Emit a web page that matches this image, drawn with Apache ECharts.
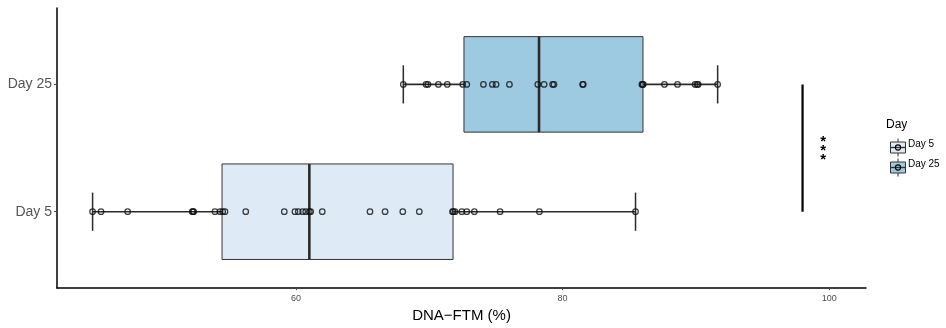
<!DOCTYPE html>
<html>
<head>
<meta charset="utf-8">
<script src="https://cdn.jsdelivr.net/npm/echarts@6/dist/echarts.min.js"></script>
<style>
  html, body { margin: 0; padding: 0; background: #fff; }
  #chart { width: 946px; height: 328px; }
</style>
</head>
<body>
<div id="chart"></div>
<script>
// Group labels (y position 1 = Day 5, 2 = Day 25)
const days = ['Day 5', 'Day 25'];

// Individual DNA-FTM measurements (%)
const day5Values = [44.74, 45.37, 47.37, 52.22, 52.27, 52.32, 53.92, 54.30, 54.50, 54.67,
  56.23, 59.12, 59.92, 60.17, 60.50, 60.73, 61.00, 61.10, 61.97, 65.55, 66.68, 68.01,
  69.25, 71.74, 71.80, 71.93, 72.44, 72.81, 73.38, 75.31, 78.26, 85.47];
const day25Values = [68.05, 69.76, 69.90, 70.68, 71.35, 72.51, 72.81, 74.06, 74.73, 75.01,
  76.01, 78.14, 78.61, 79.25, 79.35, 81.50, 81.55, 85.95, 86.00, 86.05, 87.64, 88.62,
  89.94, 90.09, 90.17, 91.63];

// Box summaries: [lower whisker, Q1, median, Q3, upper whisker]
const day5Box = [44.74, 54.45, 61.00, 71.78, 85.47];
const day25Box = [68.05, 72.60, 78.23, 86.03, 91.63];

const boxFills = ['#deebf7', '#9ecae1'];
const xTicks = [60, 80, 100];

// Significance bracket between the two groups
const sigX = 98;
const sigLabel = '***';
const sigLabelX = 99.55;

const FONT = '"Liberation Sans", Arial, Helvetica, sans-serif';
const chart = echarts.init(document.getElementById('chart'));

function boxItem(pos, stats) { return [pos].concat(stats); }
function pointItems(pos, vals) { return vals.map(v => [v, pos]); }

const boxSeries = [day5Box, day25Box].map((stats, i) => ({
  type: 'custom',
  name: days[i],
  z: 2,
  data: [boxItem(i + 1, stats)],
  encode: { x: [1, 2, 3, 4, 5], y: 0 },
  renderItem: function (params, api) {
    const y = api.value(0);
    const lo = api.coord([api.value(1), y]);
    const q1 = api.coord([api.value(2), y]);
    const md = api.coord([api.value(3), y]);
    const q3 = api.coord([api.value(4), y]);
    const hi = api.coord([api.value(5), y]);
    const boxH = api.size([0, 0.75])[1];
    const capH = api.size([0, 0.3])[1];
    const stroke = '#2b2b2b';
    return {
      type: 'group',
      children: [
        { type: 'line', shape: { x1: lo[0], y1: lo[1], x2: hi[0], y2: hi[1] },
          style: { stroke: stroke, lineWidth: 1.6 } },
        { type: 'line', shape: { x1: lo[0], y1: lo[1] - capH / 2, x2: lo[0], y2: lo[1] + capH / 2 },
          style: { stroke: stroke, lineWidth: 1.5 } },
        { type: 'line', shape: { x1: hi[0], y1: hi[1] - capH / 2, x2: hi[0], y2: hi[1] + capH / 2 },
          style: { stroke: stroke, lineWidth: 1.5 } },
        { type: 'rect', shape: { x: q1[0], y: q1[1] - boxH / 2, width: q3[0] - q1[0], height: boxH },
          style: { fill: boxFills[i], stroke: '#333', lineWidth: 1 } },
        { type: 'line', shape: { x1: md[0], y1: md[1] - boxH / 2, x2: md[0], y2: md[1] + boxH / 2 },
          style: { stroke: stroke, lineWidth: 2.6 } }
      ]
    };
  }
}));

const pointSeries = [day5Values, day25Values].map((vals, i) => ({
  type: 'scatter',
  name: days[i] + ' points',
  z: 4,
  symbol: 'circle',
  symbolSize: 5.5,
  itemStyle: { color: 'rgba(0,0,0,0)', borderColor: '#111', borderWidth: 1.3 },
  emphasis: { disabled: true },
  data: pointItems(i + 1, vals)
}));

const sigSeries = {
  type: 'line',
  z: 3,
  symbol: 'none',
  lineStyle: { color: '#000', width: 2.2 },
  data: [[sigX, 1], [sigX, 2]]
};

const starSeries = {
  type: 'custom',
  z: 3,
  data: [[sigLabelX, 1.5]],
  renderItem: function (params, api) {
    const p = api.coord([api.value(0), api.value(1)]);
    return {
      type: 'text',
      x: p[0],
      y: p[1] + 3,
      style: {
        text: sigLabel.split('').join('\n'),
        font: 'bold 15px ' + FONT,
        lineHeight: 8.7,
        align: 'center',
        verticalAlign: 'middle',
        fill: '#000'
      }
    };
  }
};

// Legend keys drawn as small vertical boxplot glyphs
const legendGraphics = [
  { type: 'text', left: 886, top: 119,
    style: { text: 'Day', font: '12px ' + FONT, fill: '#000' } }
];
days.forEach((d, i) => {
  const cy = 145 + 20 * i;
  legendGraphics.push({
    type: 'group', left: 888, top: cy - 9,
    children: [
      { type: 'line', shape: { x1: 8, y1: 0, x2: 8, y2: 18 }, style: { stroke: '#333', lineWidth: 1 } },
      { type: 'rect', shape: { x: 0.5, y: 3.5, width: 15, height: 11 },
        style: { fill: boxFills[i], stroke: '#333', lineWidth: 1 } },
      { type: 'line', shape: { x1: 0.5, y1: 9, x2: 15.5, y2: 9 }, style: { stroke: '#333', lineWidth: 1.4 } },
      { type: 'circle', shape: { cx: 8, cy: 9, r: 2.6 }, style: { fill: 'none', stroke: '#000', lineWidth: 1.1 } }
    ]
  });
  legendGraphics.push({
    type: 'text', left: 908, top: cy - 6,
    style: { text: d, font: '10px ' + FONT, fill: '#000' }
  });
});

chart.setOption({
  animation: false,
  backgroundColor: '#fff',
  grid: { left: 57, right: 80, top: 8, bottom: 37, containLabel: false },
  xAxis: {
    type: 'value',
    min: 42.07,
    max: 102.76,
    name: 'DNA\u2212FTM (%)',
    nameLocation: 'middle',
    nameGap: 19,
    nameTextStyle: { fontFamily: FONT, fontSize: 15, color: '#000' },
    splitLine: { show: false },
    axisLine: { onZero: false, lineStyle: { color: '#000', width: 1.5 } },
    axisTick: { show: true, length: 2, customValues: xTicks, lineStyle: { color: '#4d4d4d' } },
    axisLabel: { customValues: xTicks, margin: 6, fontFamily: '"Liberation Sans Narrow", ' + FONT,
      fontSize: 9, color: '#4d4d4d' }
  },
  yAxis: {
    type: 'value',
    min: 0.4,
    max: 2.6,
    splitLine: { show: false },
    axisLine: { onZero: false, lineStyle: { color: '#000', width: 1.5 } },
    axisTick: { show: true, length: 3, customValues: [1, 2], lineStyle: { color: '#4d4d4d' } },
    axisLabel: {
      customValues: [1, 2],
      formatter: v => days[Math.round(v) - 1],
      margin: 5,
      fontFamily: FONT,
      fontSize: 14,
      color: '#555555'
    }
  },
  graphic: legendGraphics,
  series: [].concat(boxSeries, [sigSeries, starSeries], pointSeries)
});
</script>
</body>
</html>
